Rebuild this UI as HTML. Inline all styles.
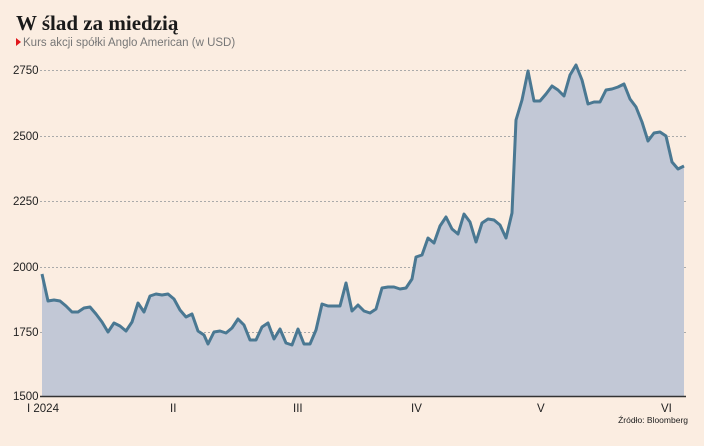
<!DOCTYPE html>
<html><head><meta charset="utf-8"><style>
body{margin:0;width:704px;height:441px;background:#fbede1;overflow:hidden;font-family:"Liberation Sans",sans-serif}
</style></head><body>
<svg width="704" height="441" xmlns="http://www.w3.org/2000/svg">
<text x="16" y="30" font-family="Liberation Serif,serif" font-weight="bold" font-size="21" fill="#1a1a1a">W ślad za miedzią</text>
<polygon points="16,38 21,42 16,46" fill="#e0161b"/>
<text x="23" y="46" font-size="11.5" fill="#777">Kurs akcji spółki Anglo American (w USD)</text>
<g stroke="#aaa" stroke-dasharray="2,2" stroke-width="1">
<line x1="40" y1="70.5" x2="686" y2="70.5"/><line x1="40" y1="136.5" x2="686" y2="136.5"/>
<line x1="40" y1="201.5" x2="686" y2="201.5"/><line x1="40" y1="267.5" x2="686" y2="267.5"/>
<line x1="40" y1="332.5" x2="686" y2="332.5"/>
</g>
<g font-size="11.5" fill="#222">
<text x="13" y="74">2750</text><text x="13" y="140">2500</text><text x="13" y="205">2250</text>
<text x="13" y="271">2000</text><text x="13" y="336">1750</text><text x="13" y="400">1500</text>
<text x="27" y="412">I 2024</text><text x="170" y="412">II</text><text x="293" y="412">III</text>
<text x="411" y="412">IV</text><text x="537" y="412">V</text><text x="661" y="412">VI</text>
</g>
<text x="688" y="423" font-size="8.5" fill="#222" text-anchor="end">Źródło: Bloomberg</text>
<polygon fill="#c2c8d6" points="42,396 42,274 48,301 54,300 60,301 66,306 72,312 78,312 84,308 90,307 96,314 102,322 108,332 114,323 120,326 126,331 132,322 138,303 144,312 150,296 156,294 162,295 168,294 174,299 180,310 186,317 192,314 198,331 204,335 208,344 214,332 220,331 226,333 232,328 238,319 244,325 250,340 256,340 262,327 268,323 274,339 280,329 286,343 292,345 298,329 304,344 310,344 316,330 322,304 328,306 334,306 340,306 346,283 352,311 358,305 364,311 370,313 376,309 382,288 388,287 394,287 400,289 406,288 412,279 416,257 422,255 428,238 434,243 440,226 446,217 452,229 458,234 464,214 470,222 476,242 482,223 488,219 494,220 500,225 506,238 512,213 516,120 522,100 528,71 534,101 540,101 546,94 552,86 558,90 564,96 570,75 576,65 582,80 588,104 594,102 600,102 606,90 612,89 618,87 624,84 630,99 636,107 642,122 648,141 654,133 660,132 666,136 672,162 678,169 684,166 684,396"/>
<polyline fill="none" stroke="#4a7892" stroke-width="3" stroke-linejoin="round" points="42,274 48,301 54,300 60,301 66,306 72,312 78,312 84,308 90,307 96,314 102,322 108,332 114,323 120,326 126,331 132,322 138,303 144,312 150,296 156,294 162,295 168,294 174,299 180,310 186,317 192,314 198,331 204,335 208,344 214,332 220,331 226,333 232,328 238,319 244,325 250,340 256,340 262,327 268,323 274,339 280,329 286,343 292,345 298,329 304,344 310,344 316,330 322,304 328,306 334,306 340,306 346,283 352,311 358,305 364,311 370,313 376,309 382,288 388,287 394,287 400,289 406,288 412,279 416,257 422,255 428,238 434,243 440,226 446,217 452,229 458,234 464,214 470,222 476,242 482,223 488,219 494,220 500,225 506,238 512,213 516,120 522,100 528,71 534,101 540,101 546,94 552,86 558,90 564,96 570,75 576,65 582,80 588,104 594,102 600,102 606,90 612,89 618,87 624,84 630,99 636,107 642,122 648,141 654,133 660,132 666,136 672,162 678,169 684,166"/>
<line x1="40" y1="396.5" x2="686" y2="396.5" stroke="#333" stroke-width="1.5"/>
</svg>
</body></html>
